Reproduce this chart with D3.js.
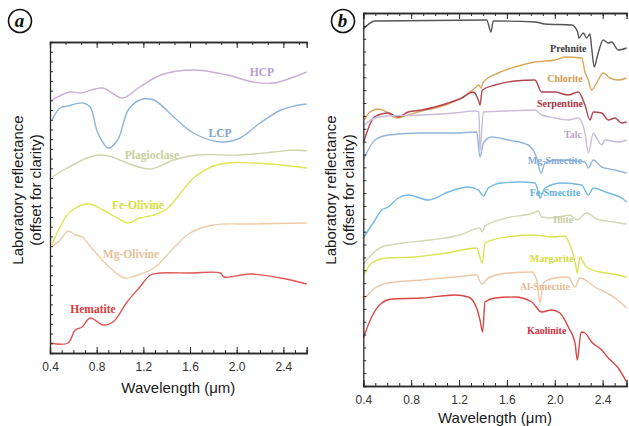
<!DOCTYPE html>
<html>
<head>
<meta charset="utf-8">
<script src="https://cdn.jsdelivr.net/npm/d3@7"></script>
<style>
  body { margin: 0; background: #fff; }
  svg { display: block; }
</style>
</head>
<body>
<svg id="chart" width="629" height="426"></svg>
<script>
// spectra: [wavelength (um), reflectance (arbitrary offset units)]
// panel a - mafic minerals
const hcp = [[0.415, 253], [0.57, 261], [0.66, 260], [0.85, 265], [1.02, 255], [1.17, 266], [1.35, 278], [1.63, 283], [1.92, 278], [2.14, 271], [2.32, 270], [2.49, 276], [2.6, 281]];
const lcp = [[0.417, 233], [0.486, 245], [0.55, 247], [0.684, 250], [0.744, 246], [0.81, 220], [0.9, 205], [0.98, 213], [1.07, 243], [1.17, 253], [1.29, 253], [1.46, 236], [1.63, 220], [1.86, 211], [2.03, 215], [2.2, 230], [2.38, 243], [2.49, 247], [2.6, 249]];
const plagioclase = [[0.417, 176], [0.546, 185], [0.718, 195], [0.83, 198], [0.933, 196], [1.06, 190], [1.26, 184], [1.46, 193], [1.66, 198], [2.03, 198], [2.32, 201], [2.49, 203], [2.6, 202]];
const feOlivine = [[0.417, 108], [0.486, 126], [0.57, 141], [0.727, 149], [0.855, 143], [0.976, 135], [1.07, 130], [1.17, 135], [1.29, 138], [1.41, 145], [1.52, 160], [1.63, 175], [1.78, 186], [1.92, 190], [2.14, 190], [2.38, 188], [2.6, 185]];
const mgOlivine = [[0.417, 106], [0.486, 113], [0.555, 122], [0.615, 118], [0.675, 116], [0.77, 103], [0.89, 88], [1.04, 75], [1.15, 78], [1.29, 85], [1.46, 105], [1.6, 120], [1.8, 128], [2.14, 129], [2.6, 130]];
const hematite = [[0.4, 10], [0.555, 10], [0.615, 23], [0.675, 26], [0.744, 35], [0.855, 28], [0.94, 31], [1.06, 51], [1.17, 66], [1.26, 78], [1.35, 80], [1.6, 80], [1.86, 80], [1.89, 76], [2.12, 79], [2.38, 75], [2.6, 69]];

// panel b - phyllosilicates
const prehnite = [[0.4, 357], [0.498, 365], [1.431, 366], [1.467, 354], [1.486, 365], [1.834, 364], [1.918, 362], [2.141, 361], [2.191, 354], [2.202, 348], [2.238, 353], [2.266, 348], [2.294, 352], [2.308, 338], [2.33, 319], [2.358, 331], [2.405, 346], [2.447, 343], [2.475, 344], [2.53, 336], [2.6, 338]];
const chlorite = [[0.408, 266], [0.456, 274], [0.525, 277], [0.595, 274], [0.679, 268], [0.776, 271], [0.888, 275], [0.999, 278], [1.11, 282], [1.222, 288], [1.333, 298], [1.366, 301], [1.383, 298], [1.403, 304], [1.528, 313], [1.667, 319], [1.834, 324], [2.001, 326], [2.085, 329], [2.225, 328], [2.252, 314], [2.28, 306], [2.308, 296], [2.35, 303], [2.405, 313], [2.461, 308], [2.53, 306], [2.6, 308]];
const serpentine = [[0.4, 243], [0.484, 268], [0.525, 271], [0.609, 273], [0.692, 269], [0.776, 274], [0.888, 276], [0.999, 279], [1.11, 283], [1.222, 288], [1.319, 294], [1.361, 286], [1.375, 281], [1.394, 296], [1.5, 301], [1.667, 305], [1.834, 306], [1.89, 294], [2.001, 294], [2.113, 291], [2.196, 294], [2.252, 281], [2.294, 266], [2.322, 274], [2.392, 273], [2.447, 266], [2.503, 268], [2.559, 263], [2.6, 264]];
const talc = [[0.408, 261], [0.498, 268], [0.609, 270], [0.888, 271], [1.166, 273], [1.333, 275], [1.366, 274], [1.375, 236], [1.403, 274], [1.584, 275], [1.834, 276], [1.89, 271], [2.001, 268], [2.113, 266], [2.196, 268], [2.252, 253], [2.28, 233], [2.322, 253], [2.35, 248], [2.392, 241], [2.419, 246], [2.53, 244], [2.6, 246]];
const mgSmectite = [[0.4, 226], [0.498, 246], [0.609, 251], [0.888, 253], [1.166, 253], [1.347, 254], [1.375, 229], [1.403, 243], [1.473, 249], [1.611, 246], [1.778, 241], [1.849, 228], [1.885, 213], [1.918, 223], [2.029, 226], [2.252, 224], [2.28, 218], [2.322, 226], [2.392, 219], [2.503, 216], [2.6, 213]];
const feSmectite = [[0.4, 148], [0.498, 166], [0.554, 176], [0.609, 179], [0.692, 188], [0.776, 191], [0.943, 186], [1.11, 194], [1.277, 199], [1.361, 196], [1.403, 190], [1.444, 198], [1.556, 203], [1.723, 204], [1.834, 203], [1.862, 194], [1.876, 188], [1.918, 198], [2.057, 203], [2.225, 201], [2.28, 191], [2.322, 198], [2.447, 193], [2.559, 188], [2.6, 184]];
const illite = [[0.4, 122], [0.554, 139], [0.734, 143], [0.957, 146], [1.207, 151], [1.375, 158], [1.394, 154], [1.417, 160], [1.598, 168], [1.82, 173], [1.862, 175], [1.89, 169], [1.987, 168], [2.127, 171], [2.183, 166], [2.266, 173], [2.35, 167], [2.489, 164], [2.6, 162]];
const margarite = [[0.4, 110], [0.47, 123], [0.595, 128], [0.818, 129], [1.097, 133], [1.347, 138], [1.394, 123], [1.417, 143], [1.598, 149], [1.82, 151], [1.987, 149], [2.085, 150], [2.127, 141], [2.169, 124], [2.188, 113], [2.21, 129], [2.238, 124], [2.266, 119], [2.377, 114], [2.489, 112], [2.6, 109]];
const alSmectite = [[0.4, 86], [0.498, 98], [0.609, 103], [0.888, 106], [1.166, 109], [1.347, 111], [1.389, 102], [1.444, 108], [1.611, 113], [1.807, 114], [1.849, 106], [1.876, 83], [1.904, 103], [2.001, 108], [2.113, 109], [2.169, 99], [2.21, 108], [2.336, 99], [2.503, 88], [2.6, 78]];
const kaolinite = [[0.4, 48], [0.47, 69], [0.554, 83], [0.637, 87], [0.888, 88], [1.166, 91], [1.277, 89], [1.347, 78], [1.375, 66], [1.397, 54], [1.417, 84], [1.5, 88], [1.667, 89], [1.807, 84], [1.89, 74], [1.974, 76], [2.043, 73], [2.113, 59], [2.169, 43], [2.188, 26], [2.22, 54], [2.252, 53], [2.308, 44], [2.392, 36], [2.447, 28], [2.53, 18], [2.6, 4]];

const xTickLabels = [0.4, 0.8, 1.2, 1.6, 2.0, 2.4];

const svg = d3.select('svg#chart');
const { width, height } = document.querySelector('svg#chart').getBoundingClientRect();

svg.append('rect').attr('width', width).attr('height', height).attr('fill', '#fff');

// panel scales
const xA = d3.scaleLinear().domain([0.4, 2.6]).range([50, 306.7]);
const yA = d3.scaleLinear().domain([0, 311]).range([353, 42]);
const xB = d3.scaleLinear().domain([0.4, 2.6]).range([363.3, 626.6]);
const yB = d3.scaleLinear().domain([0, 373]).range([386, 13]);

const panelA = [
  { name: 'HCP', data: hcp, color: '#c9afd6', text: '#b79bd0', at: [2.217, 281] },
  { name: 'LCP', data: lcp, color: '#8db5dc', text: '#7fa6d6', at: [1.857, 220] },
  { name: 'Plagioclase', data: plagioclase, color: '#cbd5ad', text: '#c5cf98', at: [1.274, 198] },
  { name: 'Fe-Olivine', data: feOlivine, color: '#dde654', text: '#d4de3c', at: [1.154, 148] },
  { name: 'Mg-Olivine', data: mgOlivine, color: '#eecba6', text: '#e6c096', at: [1.094, 99] },
  { name: 'Hematite', data: hematite, color: '#e05656', text: '#e03a3a', at: [0.768, 44] }
];

const panelB = [
  { name: 'Prehnite', data: prehnite, color: '#555', text: '#3a3a3a', at: [2.113, 338] },
  { name: 'Chlorite', data: chlorite, color: '#d9a45a', text: '#d59a50', at: [2.085, 308] },
  { name: 'Serpentine', data: serpentine, color: '#b3444f', text: '#a8323f', at: [2.043, 283] },
  { name: 'Talc', data: talc, color: '#c9bcd8', text: '#b9a4c8', at: [2.152, 252] },
  { name: 'Mg-Smectite', data: mgSmectite, color: '#94b6dc', text: '#86aad6', at: [2.001, 226] },
  { name: 'Fe-Smectite', data: feSmectite, color: '#74badf', text: '#62b2e0', at: [2.001, 194] },
  { name: 'Illite', data: illite, color: '#d3d7b4', text: '#c8cea0', at: [2.071, 167] },
  { name: 'Margarite', data: margarite, color: '#d9e452', text: '#d2de40', at: [1.974, 128] },
  { name: 'Al-Smectite', data: alSmectite, color: '#eec6a6', text: '#eab890', at: [1.918, 100] },
  { name: 'Kaolinite', data: kaolinite, color: '#d94545', text: '#d52f3f', at: [1.932, 56] }
];

const drawPanel = (x, y, series, opts) => {
  const g = svg.append('g');
  const [x0, x1] = x.range();
  const [y0, y1] = y.range();

  // curves
  const line = d3.line()
    .x(d => x(d[0]))
    .y(d => y(d[1]))
    .curve(opts.curve);
  g.append('g')
    .selectAll('path')
    .data(series)
    .enter()
    .append('path')
    .attr('fill', 'none')
    .attr('stroke', d => d.color)
    .attr('stroke-width', 1.4)
    .attr('stroke-linejoin', 'round')
    .attr('d', d => line(d.data));

  // curve names
  g.append('g')
    .selectAll('text')
    .data(series)
    .enter()
    .append('text')
    .attr('x', d => x(d.at[0]))
    .attr('y', d => y(d.at[1]))
    .attr('dy', '0.35em')
    .attr('text-anchor', 'middle')
    .attr('font-family', '"Liberation Serif", "DejaVu Serif", serif')
    .attr('font-weight', 'bold')
    .attr('font-size', opts.labelSize)
    .attr('fill', d => d.text)
    .text(d => d.name);

  // axes - ticks point inward
  const minor = d3.range(4, 27).map(v => v / 10);
  const bottomMinor = d3.axisBottom(x).tickValues(minor).tickSize(-3).tickFormat('');
  const bottomMajor = d3.axisBottom(x).tickValues(xTickLabels).tickSize(-6).tickPadding(opts.pad).tickFormat(d3.format('.1f'));
  const topMinor = d3.axisTop(x).tickValues(opts.topTicks).tickSize(-3).tickFormat('');
  const topMajor = d3.axisTop(x).tickValues(xTickLabels).tickSize(-6).tickFormat('');
  const leftTicks = d3.axisLeft(y).tickValues(d3.range(y.domain()[0], y.domain()[1] + 1, opts.yStep)).tickSize(-3).tickFormat('');

  const style = sel => {
    sel.selectAll('path').attr('stroke', '#2a2a2a').attr('stroke-width', 1.3);
    sel.selectAll('line').attr('stroke', '#2a2a2a').attr('stroke-width', 1);
    sel.selectAll('text').attr('fill', '#333').attr('font-size', 12).attr('font-family', '"Liberation Sans", Arial, sans-serif');
  };
  g.append('g').attr('transform', `translate(0,${y0})`).call(bottomMinor).call(style);
  g.append('g').attr('transform', `translate(0,${y0})`).call(bottomMajor).call(style);
  g.append('g').attr('transform', `translate(0,${y1})`).call(topMinor).call(style);
  g.append('g').attr('transform', `translate(0,${y1})`).call(topMajor).call(style);
  g.append('g').attr('transform', `translate(${x0},0)`).call(leftTicks).call(style);

  // axis titles
  g.append('text')
    .attr('x', (x0 + x1) / 2)
    .attr('y', opts.titleY)
    .attr('text-anchor', 'middle')
    .attr('font-family', '"Liberation Sans", Arial, sans-serif')
    .attr('font-size', 15)
    .attr('fill', '#1a1a1a')
    .text('Wavelength (\u03bcm)');

  const yt = g.append('text')
    .attr('transform', `translate(${opts.yTitleX},190) rotate(-90)`)
    .attr('text-anchor', 'middle')
    .attr('font-family', '"Liberation Sans", Arial, sans-serif')
    .attr('font-size', 15)
    .attr('fill', '#1a1a1a');
  yt.append('tspan').attr('x', 0).attr('y', 0).text('Laboratory reflectance');
  yt.append('tspan').attr('x', 0).attr('y', 17.5).text('(offset for clarity)');

  // panel letter in a circle
  const badge = svg.append('g').attr('transform', `translate(${opts.badge[0]},${opts.badge[1]})`);
  badge.append('circle').attr('r', 11.5).attr('fill', '#fff').attr('stroke', '#111').attr('stroke-width', 1.6);
  badge.append('text')
    .attr('text-anchor', 'middle')
    .attr('dy', '0.32em')
    .attr('x', -0.5)
    .attr('font-family', '"Liberation Serif", "DejaVu Serif", serif')
    .attr('font-style', 'italic')
    .attr('font-weight', 'bold')
    .attr('font-size', 19)
    .attr('fill', '#111')
    .text(opts.letter);
};

drawPanel(xA, yA, panelA, {
  curve: d3.curveCatmullRom.alpha(0.5),
  labelSize: 11.5,
  pad: 9,
  topTicks: d3.range(0, 17).map(i => 0.4 + i * 0.4 / 3),
  yStep: 311 / 32,
  titleY: 393,
  yTitleX: 23,
  badge: [20, 21],
  letter: 'a'
});

drawPanel(xB, yB, panelB, {
  curve: d3.curveMonotoneX,
  labelSize: 10,
  pad: 9.5,
  topTicks: d3.range(4, 27).map(v => v / 10),
  yStep: 373 / 29,
  titleY: 423,
  yTitleX: 336,
  badge: [343, 21],
  letter: 'b'
});
</script>
</body>
</html>
